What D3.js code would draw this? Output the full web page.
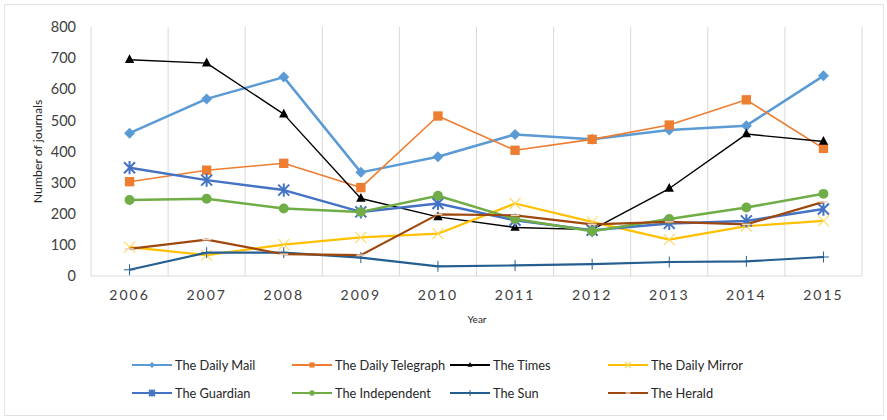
<!DOCTYPE html>
<html>
<head>
<meta charset="utf-8">
<script src="https://cdn.jsdelivr.net/npm/d3@7/dist/d3.min.js"></script>
<style>
  body { margin: 0; background: #fff; }
  svg { font-family: Lato, "Liberation Sans", sans-serif; }
</style>
</head>
<body>
<svg id="chart" width="887" height="420"></svg>
<script>
const years = ['2006', '2007', '2008', '2009', '2010', '2011', '2012', '2013', '2014', '2015']
const yTicks = [0, 100, 200, 300, 400, 500, 600, 700, 800]

const dailyMail = [459, 569, 639, 333, 383, 455, 439, 469, 483, 643]
const dailyTelegraph = [303, 340, 362, 284, 514, 404, 439, 485, 566, 410]
const times = [695, 684, 520, 249, 190, 156, 149, 281, 456, 432]
const dailyMirror = [93, 67, 101, 124, 136, 233, 174, 117, 160, 177]
const guardian = [348, 308, 276, 206, 233, 179, 147, 169, 177, 215]
const independent = [244, 248, 217, 206, 258, 183, 144, 183, 220, 264]
const sun = [20, 75, 75, 59, 31, 34, 38, 45, 47, 61]
const herald = [87, 117, 70, 67, 198, 195, 166, 174, 166, 238]

// series styling, legend order = row by row
const series = [
    { name: 'The Daily Mail', values: dailyMail, color: '#5B9BD5', width: 2.5, marker: 'diamond' },
    { name: 'The Daily Telegraph', values: dailyTelegraph, color: '#ED7D31', width: 1.6, marker: 'square' },
    { name: 'The Times', values: times, color: '#000000', width: 1.4, marker: 'triangle' },
    { name: 'The Daily Mirror', values: dailyMirror, color: '#FFC000', width: 2.2, marker: 'x' },
    { name: 'The Guardian', values: guardian, color: '#4472C4', width: 2.5, marker: 'star' },
    { name: 'The Independent', values: independent, color: '#70AD47', width: 2.5, marker: 'circle' },
    { name: 'The Sun', values: sun, color: '#255E91', width: 2.2, marker: 'plus' },
    { name: 'The Herald', values: herald, color: '#9E480E', width: 2.2, marker: 'dash' }
]

const svg = d3.select('#chart')
const plotLeft = 91, plotRight = 862, plotTop = 27, plotBottom = 276

svg.append('rect').attr('x', 4.5).attr('y', 4.5).attr('width', 879).attr('height', 411)
    .attr('fill', '#fff').attr('stroke', '#E3E3E3')

const x = d3.scaleBand().domain(years).range([plotLeft, plotRight])
const y = d3.scaleLinear().domain([0, 800]).range([plotBottom, plotTop])

// vertical gridlines at category boundaries
const bounds = years.map(d => x(d)).concat([plotRight])
svg.append('g').selectAll('line').data(bounds).enter().append('line')
    .attr('x1', d => d).attr('x2', d => d)
    .attr('y1', plotTop).attr('y2', plotBottom)
    .attr('stroke', '#D9D9D9').attr('stroke-width', 1)

svg.append('line').attr('x1', plotLeft).attr('x2', plotRight).attr('y1', plotBottom).attr('y2', plotBottom)
    .attr('stroke', '#D9D9D9')

// y axis labels
const yAxis = svg.append('g').attr('transform', `translate(${plotLeft},0)`)
    .call(d3.axisLeft(y).tickValues(yTicks).tickSize(0).tickPadding(15))
yAxis.select('.domain').remove()
yAxis.selectAll('text').attr('font-size', 14.5).attr('fill', '#404040')
    .attr('font-family', 'Lato, sans-serif')

const xAxis = svg.append('g').attr('transform', `translate(0,${plotBottom})`)
    .call(d3.axisBottom(x).tickSize(0).tickPadding(14))
xAxis.select('.domain').remove()
xAxis.selectAll('text').attr('font-size', 14).attr('fill', '#404040')
    .attr('letter-spacing', '2px').attr('font-family', 'Lato, sans-serif')

svg.append('text').attr('transform', `translate(42,${(plotTop + plotBottom) / 2}) rotate(-90)`)
    .attr('text-anchor', 'middle').attr('font-size', 12.3).attr('fill', '#262626')
    .text('Number of journals')
svg.append('text').attr('x', 477).attr('y', 323).attr('text-anchor', 'middle')
    .attr('font-size', 10).attr('fill', '#262626').text('Year')

const cx = d => x(d) + x.bandwidth() / 2
const line = d3.line().x((d, i) => cx(years[i])).y(d => y(d))

function drawMarker(g, s, size) {
    const c = s.color
    if (s.marker === 'diamond') {
        g.append('path').attr('d', `M0,${-size}L${size},0L0,${size}L${-size},0Z`).attr('fill', c)
    } else if (s.marker === 'square') {
        g.append('rect').attr('x', -size * 0.85).attr('y', -size * 0.85)
            .attr('width', size * 1.7).attr('height', size * 1.7).attr('fill', c)
    } else if (s.marker === 'triangle') {
        g.append('path').attr('d', `M0,${-size}L${size * 0.85},${size * 0.6}L${-size * 0.85},${size * 0.6}Z`).attr('fill', c)
    } else if (s.marker === 'circle') {
        g.append('circle').attr('r', size * 0.9).attr('fill', c)
    } else if (s.marker === 'x') {
        g.append('path').attr('d', `M${-size},${-size}L${size},${size}M${size},${-size}L${-size},${size}`)
            .attr('stroke', '#FFD966').attr('stroke-width', 1.2)
    } else if (s.marker === 'star') {
        g.append('path').attr('d', `M${-size},${-size}L${size},${size}M${size},${-size}L${-size},${size}M0,${-size * 1.2}L0,${size * 1.2}`)
            .attr('stroke', c).attr('stroke-width', 2)
    } else if (s.marker === 'plus') {
        g.append('path').attr('d', `M0,${-size}L0,${size}M${-size},0L${size},0`)
            .attr('stroke', c).attr('stroke-width', 1)
    } else if (s.marker === 'dash') {
        g.append('path').attr('d', `M${-size * 0.8},0L${size * 0.8},0`)
            .attr('stroke', '#E8D5C8').attr('stroke-width', 1.5)
    }
}

series.forEach(s => {
    const g = svg.append('g')
    g.append('path').datum(s.values).attr('d', line)
        .attr('fill', 'none').attr('stroke', s.color).attr('stroke-width', s.width)
        .attr('stroke-linejoin', 'round')
    g.selectAll('g.m').data(s.values).enter().append('g').attr('class', 'm')
        .attr('transform', (d, i) => `translate(${cx(years[i])},${y(d)})`)
        .each(function() { drawMarker(d3.select(this), s, 5.5) })
})

// legend
const legX = [132, 292, 450, 608]
const legY = [365, 393]
series.forEach((s, i) => {
    const lx = legX[i % 4], ly = legY[Math.floor(i / 4)]
    const g = svg.append('g').attr('transform', `translate(${lx},${ly})`)
    g.append('line').attr('x1', 0).attr('x2', 40).attr('stroke', s.color).attr('stroke-width', 2)
    const m = g.append('g').attr('transform', 'translate(20,0)')
    drawMarker(m, s, 3)
    g.append('text').attr('x', 43).attr('y', 5).attr('font-size', 12.8).attr('fill', '#262626').text(s.name)
})
</script>
</body>
</html>
